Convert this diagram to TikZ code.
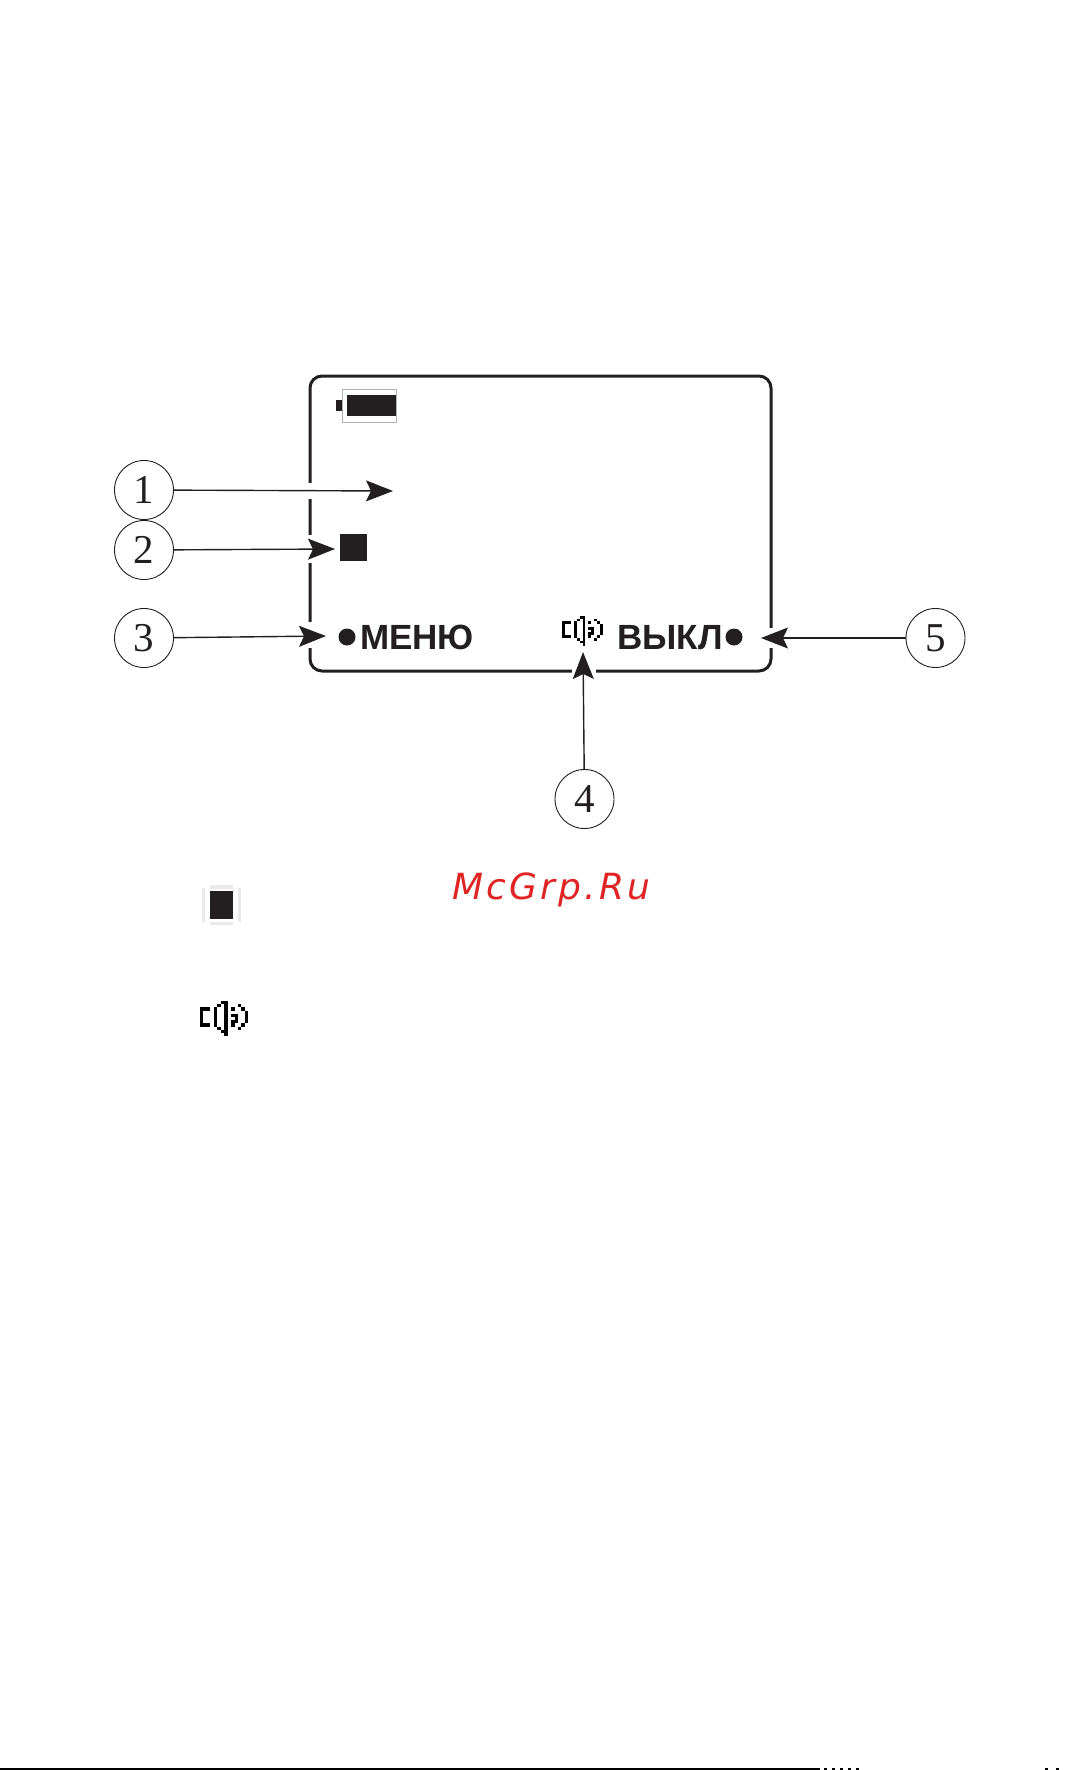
\documentclass[tikz,border=0pt]{standalone}
\usepackage{fontspec}
\usetikzlibrary{arrows.meta,positioning}
\setmainfont{Liberation Serif}
\newfontfamily\lcdfont{Liberation Sans}[BoldFont={Liberation Sans Bold}]
\newfontfamily\markfont{DejaVu Sans}[LetterSpace=9.0]
\definecolor{ink}{HTML}{231F20}
\definecolor{halo}{HTML}{E9E9E9}
\definecolor{markred}{HTML}{E02424}
\newcommand{\speakericon}[3]{
	\foreach \rowno/\cols in {0/{6,7},1/{5,7,11},2/{0,1,2,4,7,9,12},3/{0,4,7,13},4/{0,4,7,9,10,13},5/{0,4,7,10,13},6/{0,4,7,9,10,13},7/{0,1,2,4,7,9,12},8/{5,7,11},9/{6,7},10/{7}} {
		\foreach \colno in \cols {
			\fill[black] ({#1+\colno*#3},{#2+\rowno*#3*0.93}) rectangle ++(#3,{#3*0.93});
		}
	}
}
\begin{document}
\begin{tikzpicture}[
		x=1pt,
		y=-1pt,
		>={Stealth[length=27pt,width=21pt,inset=5pt]},
		numcircle/.style={
			draw=ink,
			circle,
			line width=0.9pt,
			minimum size=59pt,
			inner sep=0pt,
			text=ink,
			font=\fontsize{41}{41}\selectfont
		},
		callout/.style={
			->,
			ink,
			line width=1.4pt
		},
		gap/.style={
			white,
			line width=6pt
		},
		softkey/.style={
			anchor=base west,
			inner sep=0pt,
			text=ink,
			font=\lcdfont\bfseries\fontsize{35}{35}\selectfont
		},
		softdot/.style={
			fill=ink,
			circle,
			minimum size=17pt,
			inner sep=0pt
		},
		marksquare/.style={
			fill=ink,
			draw=none
		}
		]
		\useasboundingbox (0,0) rectangle (1090,1770);
		\draw[ink,line width=3pt,rounded corners=12pt] (310,376) rectangle (771,671);
		\draw[gap] (310,483) -- (310,499);
		\draw[gap] (310,535) -- (310,563);
		\draw[gap] (310,622) -- (310,648);
		\draw[gap] (771,628) -- (771,648);
		\draw[gap] (572,671) -- (596,671);
		\draw[gray!60,line width=1pt] (342,389) rectangle (396,422);
		\fill[ink] (347,394.5) rectangle (396,416);
		\fill[ink] (336,400) rectangle (342,411);
		\node[numcircle] (n1) at (144,490) {1};
		\node[numcircle] (n2) at (144,550) {2};
		\node[numcircle] (n3) at (144,638) {3};
		\node[numcircle] (n4) at (584.5,799) {4};
		\node[numcircle] (n5) at (935.5,638) {5};
		\coordinate (t1) at (393,491);
		\coordinate (t2) at (335,549);
		\coordinate (t3) at (326,636);
		\coordinate (t4) at (583,652);
		\coordinate (t5) at (761,638);
		\draw[callout] (n1) -- (t1);
		\draw[callout] (n2) -- (t2);
		\draw[callout] (n3) -- (t3);
		\draw[callout] (n4) -- (t4);
		\draw[callout] (n5) -- (t5);
		\fill[marksquare] (340,534) rectangle (367,561);
		\node[softdot] (dotmenu) at (347,637) {};
		\node[softkey] (menu) at (360,649) {МЕНЮ};
		\node[softkey] (off) at (617,649) {ВЫКЛ};
		\node[softdot] (dotoff) at (734,637) {};
		\speakericon{562}{616}{2.93}
		\fill[marksquare] (210,891) rectangle (233,919);
		\fill[halo] (210,885) rectangle (233,889);
		\fill[halo] (210,922) rectangle (233,925);
		\fill[halo] (202,888) rectangle (204.5,922);
		\fill[halo] (238,888) rectangle (241,922);
		\speakericon{200}{1001}{3.45}
		\node[anchor=base west,inner sep=0pt,text=markred,font=\markfont\itshape\fontsize{36}{36}\selectfont] (mark) at (452,899) {McGrp.Ru};
		\draw[black,line width=2pt] (0,1769) -- (820,1769);
		\draw[black,line width=2pt,dash pattern=on 3pt off 5pt] (824,1769) -- (860,1769);
		\draw[black,line width=2pt,dash pattern=on 3pt off 8pt] (1045,1769) -- (1060,1769);
\end{tikzpicture}
\end{document}
